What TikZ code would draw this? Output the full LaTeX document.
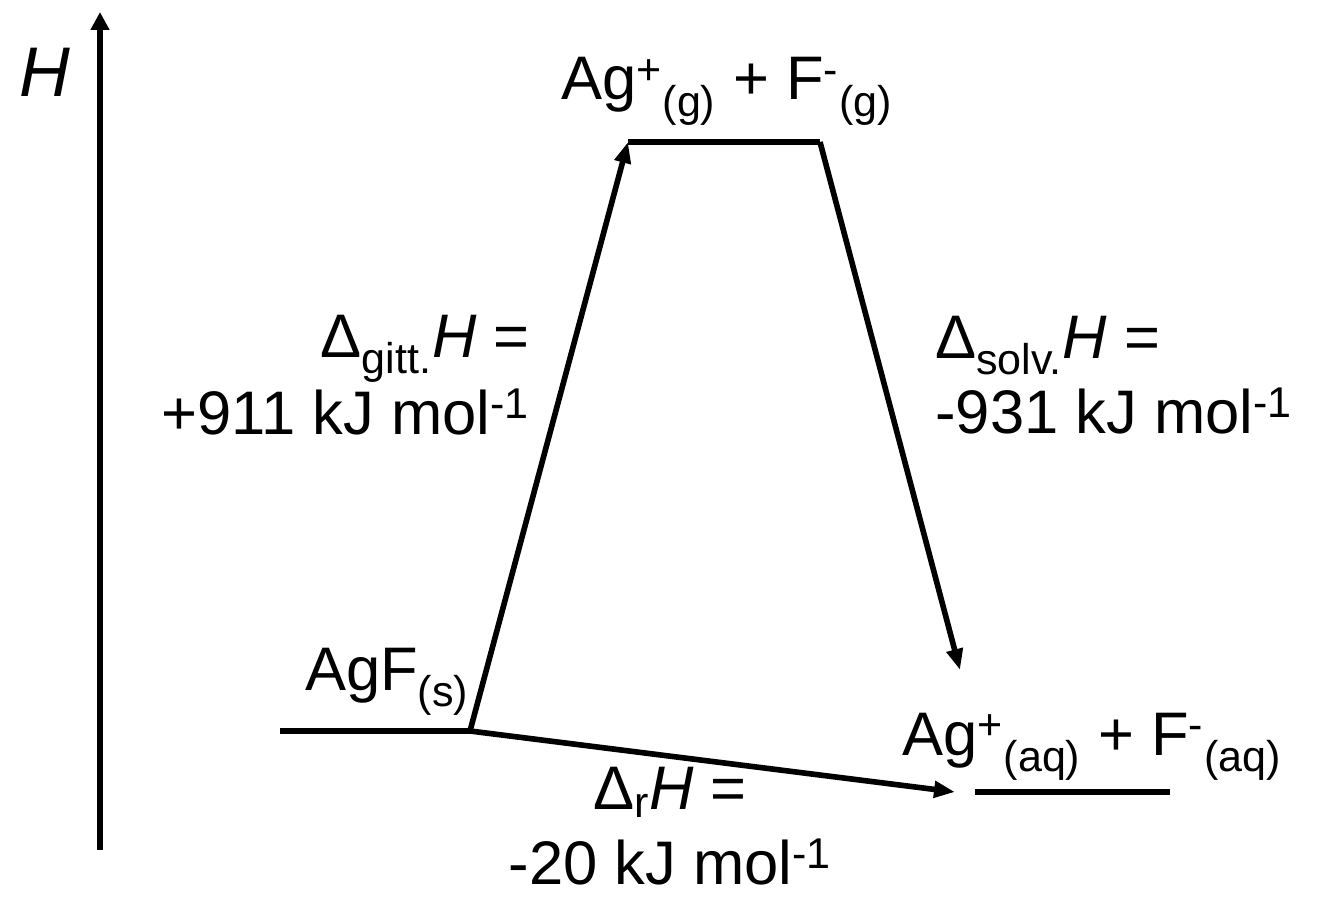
\documentclass[tikz,border=0pt]{standalone}
\usepackage{fontspec}
\setmainfont{Liberation Sans}
\usetikzlibrary{arrows.meta}
\newcommand{\phase}[1]{\textsubscript{(#1)}}
\begin{document}
\begin{tikzpicture}[
  level/.style={line width=3.2pt},
  axis_arr/.style={line width=3.2pt, -{Triangle[length=0.36cm, width=0.36cm]}},
  step_arr/.style={line width=3.2pt, -{Triangle[length=0.42cm, width=0.32cm]}},
  lbl/.style={font=\fontsize{35}{40}\selectfont, inner sep=0pt},
]
\useasboundingbox (0,0) rectangle (26.44,18.12);
% Enthalpy axis
\coordinate (ax0) at (2.0,1.12);
\coordinate (ax1) at (2.0,17.88);
\draw[axis_arr] (ax0) -- (ax1);
\node[lbl, anchor=base, font=\fontsize{40}{44}\selectfont] (hlbl) at (0.9,16.18) {\textit{H}};
% Levels
\coordinate (agf_l) at (5.6,3.5);
\coordinate (agf_r) at (9.4,3.5);
\coordinate (gas_l) at (12.56,15.28);
\coordinate (gas_r) at (16.4,15.28);
\coordinate (aq_l) at (19.5,2.28);
\coordinate (aq_r) at (23.4,2.28);
\draw[level] (agf_l) -- (agf_r);
\draw[level] (gas_l) -- (gas_r);
\draw[level] (aq_l) -- (aq_r);
\node[lbl, anchor=base] (agf) at (7.74,4.32) {AgF\phase{s}};
\node[lbl, anchor=base] (gas) at (14.54,16.12)
  {Ag\textsuperscript{+}\phase{g} + F\textsuperscript{-}\phase{g}};
\node[lbl, anchor=base] (aq) at (21.84,3.02)
  {Ag\textsuperscript{+}\phase{aq} + F\textsuperscript{-}\phase{aq}};
% Steps
\coordinate (solv_end) at (19.2,4.72);
\coordinate (r_end) at (19.1,2.28);
\draw[step_arr] (agf_r) -- (gas_l);
\draw[step_arr] (gas_r) -- (solv_end);
\draw[step_arr] (agf_r) -- (r_end);
\node[lbl, align=right, anchor=east] (gitt) at (10.6,10.62)
  {Δ\textsubscript{gitt.}\textit{H} =\\[3pt]+911 kJ mol\textsuperscript{-1}};
\node[lbl, align=left, anchor=west] (solv) at (18.7,10.62)
  {Δ\textsubscript{solv.}\textit{H} =\\[3pt]-931 kJ mol\textsuperscript{-1}};
\node[lbl, align=center] (rxn) at (13.4,1.6)
  {Δ\textsubscript{r}\textit{H} =\\[3pt]-20 kJ mol\textsuperscript{-1}};
\end{tikzpicture}
\end{document}
